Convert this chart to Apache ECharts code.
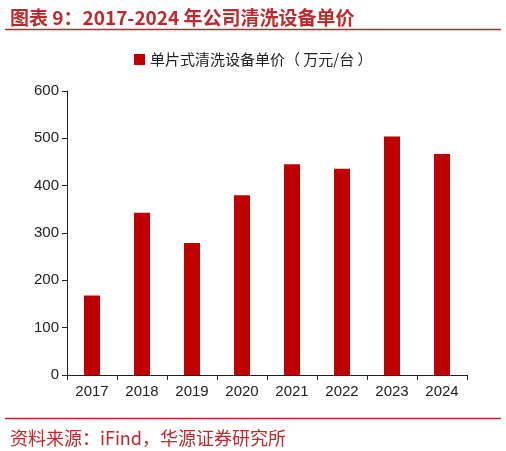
<!DOCTYPE html>
<html><head><meta charset="utf-8">
<script src="https://cdn.jsdelivr.net/npm/echarts@6/dist/echarts.min.js"></script>
<style>html,body{margin:0;padding:0;background:#fff}#c{width:506px;height:451px}</style>
</head><body><div id="c"></div>
<script>
const categories = ['2017','2018','2019','2020','2021','2022','2023','2024'];
const values = [168, 343, 279, 380, 445, 436, 504, 467];
const seriesName = '单片式清洗设备单价（ 万元/台 ）';
const yTicks = [0, 100, 200, 300, 400, 500, 600];

const chart = echarts.init(document.getElementById('c'));
chart.setOption({
  backgroundColor: '#fff',
  animation: false,
  title: [{
    text: '图表 9：2017-2024 年公司清洗设备单价',
    left: 5, top: 3,
    textStyle: {fontFamily: 'Noto Sans CJK SC', fontSize: 19, fontWeight: 'bold', color: '#c0282d'}
  }, {
    text: '资料来源：iFind，华源证券研究所',
    left: 5, top: 424,
    textStyle: {fontFamily: 'Noto Sans CJK SC', fontSize: 18, fontWeight: 'normal', color: '#c0282d'}
  }],
  graphic: [
    {type: 'line', shape: {x1: 5, y1: 29.5, x2: 501, y2: 29.5}, style: {stroke: '#c0282d', lineWidth: 1.5}},
    {type: 'line', shape: {x1: 5, y1: 418.5, x2: 501, y2: 418.5}, style: {stroke: '#c0282d', lineWidth: 1.5}}
  ],
  legend: {
    top: 47, left: 129,
    itemWidth: 11, itemHeight: 11, itemGap: 6,
    icon: 'rect',
    textStyle: {fontFamily: 'Noto Sans CJK SC', fontSize: 15, color: '#222'},
    data: [seriesName]
  },
  grid: {left: 67, right: 39, top: 91, bottom: 76, containLabel: false},
  xAxis: {
    type: 'category', data: categories,
    axisLine: {lineStyle: {color: '#222', width: 1}},
    axisTick: {show: true, alignWithLabel: false, length: 5, lineStyle: {color: '#222'}},
    axisLabel: {fontFamily: 'Liberation Sans', fontSize: 15, color: '#222', margin: 9}
  },
  yAxis: {
    type: 'value', min: 0, max: 600, interval: 100,
    axisLine: {show: true, lineStyle: {color: '#222', width: 1}},
    axisTick: {show: true, length: 5, lineStyle: {color: '#222'}},
    axisLabel: {fontFamily: 'Liberation Sans', fontSize: 15, color: '#222', margin: 8,
      formatter: v => yTicks.includes(v) ? String(v) : ''},
    splitLine: {show: false}
  },
  series: [{
    name: seriesName, type: 'bar', data: values,
    barWidth: 16,
    itemStyle: {color: '#c00000'}
  }]
});
</script></body></html>
